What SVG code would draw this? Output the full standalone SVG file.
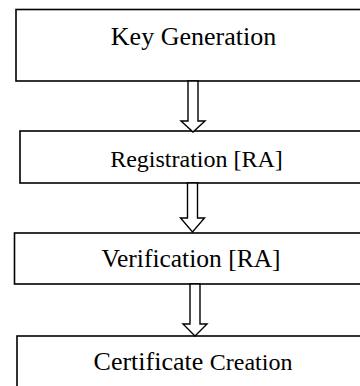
<svg xmlns="http://www.w3.org/2000/svg" width="360" height="386" viewBox="0 0 360 386">
<style>
.box{fill:#fff;stroke:#000;stroke-width:1.6}
.arr{fill:#fff;stroke:#000;stroke-width:1.4;stroke-linejoin:miter}
text{font-family:"Liberation Serif","Times New Roman",serif;fill:#000;text-anchor:middle}
</style>
<rect width="360" height="386" fill="#fff"/>
<g id="keygen">
<rect class="box" x="16" y="9.5" width="350" height="71.5"/>
<text x="193.5" y="45" font-size="26">Key Generation</text>
</g>
<g id="registration">
<rect class="box" x="20" y="131" width="346" height="52"/>
<text x="196.5" y="167" font-size="24">Registration [RA]</text>
</g>
<g id="verification">
<rect class="box" x="14.5" y="233" width="352" height="51"/>
<text x="191" y="267" font-size="25.5">Verification [RA]</text>
</g>
<g id="certificate">
<rect class="box" x="17" y="336" width="349" height="60"/>
<text x="193" y="370" font-size="26">Certificate <tspan font-size="24">Creation</tspan></text>
</g>
<g id="connectors">
<polygon class="arr" points="188,81 198,81 198,121 205,121 193,132 181,121 188,121"/>
<polygon class="arr" points="187.5,183 197.5,183 197.5,218 204.5,218 192.5,232 180.5,218 187.5,218"/>
<polygon class="arr" points="190,284 200,284 200,324 207,324 195,336 183,324 190,324"/>
</g>
</svg>
